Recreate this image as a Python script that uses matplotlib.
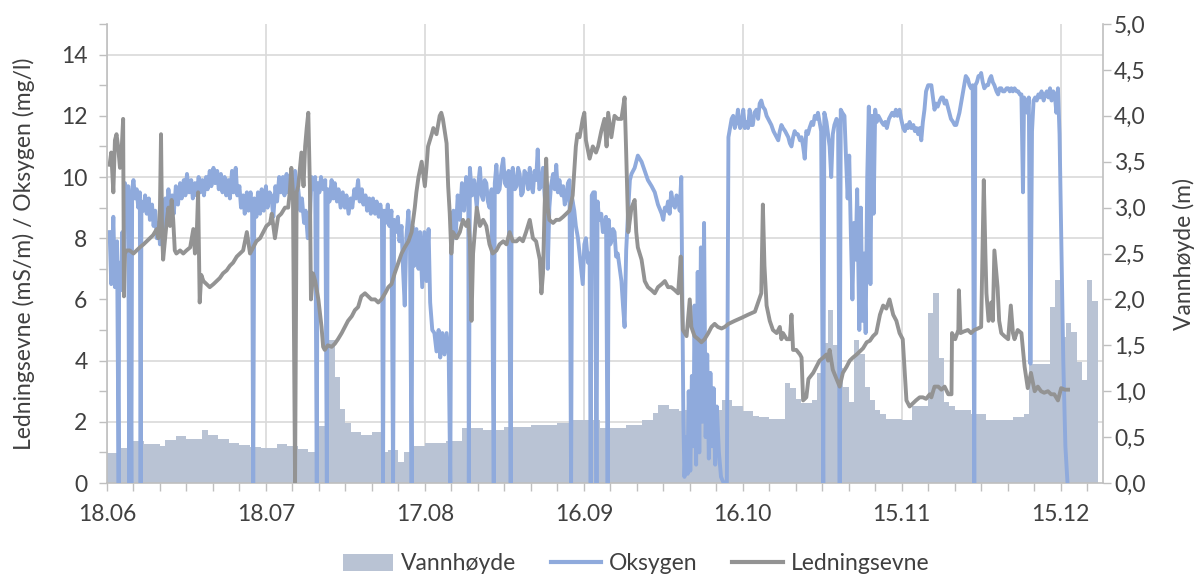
import matplotlib
matplotlib.use("Agg")
import matplotlib.pyplot as plt
import numpy as np
from matplotlib.lines import Line2D
from matplotlib.patches import Patch

# x-axis: days counted from 18.06
TICK_DAYS = [0, 30, 60, 90, 120, 150, 180]
TICK_LABELS = ["18.06", "18.07", "17.08", "16.09", "16.10", "15.11", "15.12"]

# daily water level (m), one value per day from day 0
WATER = [
    0.33, 0.33, 0.38, 0.38, 0.38, 0.46, 0.46, 0.43, 0.43, 0.43,
    0.40, 0.47, 0.47, 0.51, 0.51, 0.48, 0.48, 0.48, 0.58, 0.52,
    0.52, 0.48, 0.48, 0.44, 0.44, 0.41, 0.41, 0.39, 0.39, 0.38,
    0.38, 0.38, 0.43, 0.43, 0.40, 0.40, 0.37, 0.37, 0.34, 0.34,
    0.62, 0.62, 1.56, 1.16, 0.81, 0.65, 0.56, 0.56, 0.52, 0.52,
    0.56, 0.56, 0.34, 0.36, 0.36, 0.23, 0.34, 0.34, 0.40, 0.40,
    0.44, 0.44, 0.44, 0.44, 0.46, 0.46, 0.46, 0.60, 0.60, 0.60,
    0.60, 0.58, 0.58, 0.58, 0.58, 0.61, 0.61, 0.61, 0.61, 0.61,
    0.63, 0.63, 0.63, 0.63, 0.63, 0.65, 0.65, 0.65, 0.69, 0.69,
    0.69, 0.69, 0.69, 0.60, 0.60, 0.60, 0.60, 0.60, 0.63, 0.63,
    0.63, 0.69, 0.69, 0.76, 0.85, 0.85, 0.81, 0.81, 0.78, 0.80,
    0.80, 0.80, 0.80, 0.80, 0.80, 0.80, 0.90, 0.90, 0.84, 0.84,
    0.78, 0.78, 0.73, 0.72, 0.72, 0.70, 0.70, 0.70, 1.09, 1.03,
    0.92, 0.87, 0.87, 0.90, 1.20, 1.52, 1.88, 1.50, 1.25, 1.05,
    0.88, 1.56, 1.40, 1.05, 0.90, 0.80, 0.75, 0.70, 0.70, 0.70,
    0.69, 0.69, 0.84, 0.84, 0.84, 1.85, 2.07, 1.36, 0.88, 0.84,
    0.80, 0.80, 0.80, 0.75, 0.75, 0.75, 0.69, 0.69, 0.69, 0.69,
    0.69, 0.72, 0.72, 0.75, 1.30, 1.30, 1.30, 1.30, 1.92, 2.21,
    1.59, 1.74, 1.65, 1.32, 1.12, 2.21, 1.98,
]

# oxygen (mg/l): (day, value), zeros are logger dropouts
OXYGEN = [
    (0.5, 8.2), (0.8, 6.5), (1.2, 8.7), (1.5, 6.4), (1.9, 7.9), (2.2, 0.0),
    (2.3, 7.2), (2.6, 6.3), (2.9, 8.2), (3.2, 7.0), (3.4, 9.8), (3.7, 9.2),
    (4.0, 9.7), (4.2, 0.0), (4.35, 9.5), (4.6, 0.0), (4.75, 9.6), (5.0, 9.9),
    (5.3, 9.3), (5.6, 9.6), (5.9, 9.0), (6.2, 9.5), (6.35, 0.0), (6.5, 9.2),
    (6.9, 8.9), (7.2, 9.4), (7.5, 8.8), (7.9, 9.3), (8.1, 8.6), (8.5, 9.1),
    (8.8, 8.4), (9.1, 8.9), (9.4, 8.0), (9.7, 8.5), (10.0, 7.8), (10.3, 8.7),
    (10.6, 8.2), (11.0, 9.3), (11.3, 8.8), (11.6, 9.6), (11.9, 9.0), (12.3, 9.4),
    (12.6, 8.8), (13.0, 9.7), (13.4, 9.1), (13.8, 9.8), (14.1, 9.3), (14.5, 9.9),
    (14.8, 9.4), (15.1, 10.1), (15.5, 9.5), (15.9, 9.9), (16.2, 9.3), (16.6, 9.8),
    (16.9, 9.4), (17.3, 10.0), (17.6, 9.5), (18.0, 9.9), (18.3, 9.4), (18.7, 10.0),
    (19.0, 9.6), (19.4, 10.2), (19.7, 9.7), (20.1, 10.3), (20.4, 9.8), (20.8, 10.2),
    (21.1, 9.6), (21.5, 10.1), (21.8, 9.5), (22.2, 10.0), (22.5, 9.4), (22.9, 9.9),
    (23.2, 9.3), (23.6, 10.2), (23.9, 9.5), (24.3, 10.3), (24.6, 9.4), (25.0, 9.7),
    (25.3, 9.0), (25.7, 9.4), (26.0, 8.8), (26.4, 9.5), (26.7, 8.9), (27.1, 9.5),
    (27.4, 8.8), (27.6, 0.0), (27.8, 9.3), (28.2, 8.7), (28.5, 9.5), (28.9, 8.8),
    (29.2, 9.6), (29.6, 8.9), (30.0, 9.7), (30.3, 9.0), (30.7, 9.5), (31.0, 9.4),
    (31.4, 8.7), (31.8, 9.7), (32.1, 9.2), (32.5, 10.0), (32.8, 9.5), (33.2, 10.0),
    (33.5, 9.4), (33.9, 10.1), (34.2, 9.5), (34.6, 10.0), (34.9, 9.3), (35.3, 9.9),
    (35.5, 10.2), (35.8, 9.4), (36.1, 9.6), (36.5, 8.9), (36.8, 9.3), (37.2, 8.5),
    (37.5, 8.9), (37.9, 8.0), (38.3, 8.6), (38.6, 10.0), (39.0, 9.6), (39.3, 10.0),
    (39.6, 0.0), (39.75, 9.8), (40.1, 9.5), (40.4, 10.0), (40.8, 9.6), (41.2, 9.9),
    (41.5, 0.0), (41.65, 9.6), (42.0, 9.2), (42.4, 9.9), (42.7, 9.3), (43.0, 9.8),
    (43.4, 9.2), (43.7, 9.6), (44.1, 9.0), (44.5, 9.5), (44.9, 9.0), (45.2, 9.4),
    (45.6, 8.8), (46.0, 9.3), (46.3, 9.0), (46.7, 9.6), (47.0, 9.3), (47.4, 9.9),
    (47.7, 9.2), (48.1, 9.6), (48.4, 9.1), (48.8, 9.4), (49.1, 8.9), (49.5, 9.3),
    (49.8, 8.8), (50.2, 9.3), (50.6, 8.8), (50.9, 9.2), (51.3, 8.7), (51.6, 9.1),
    (51.9, 8.7), (52.1, 0.0), (52.3, 8.9), (52.6, 8.5), (53.0, 9.1), (53.3, 8.4),
    (53.7, 8.9), (54.0, 0.0), (54.2, 8.6), (54.5, 8.2), (54.9, 8.7), (55.2, 7.9),
    (55.6, 8.4), (55.9, 6.9), (56.2, 5.8), (56.5, 8.0), (56.9, 8.9), (57.2, 7.6),
    (57.5, 0.0), (57.65, 8.4), (58.0, 7.1), (58.4, 8.3), (58.8, 7.0), (59.1, 8.2),
    (59.5, 6.4), (59.9, 8.2), (60.3, 6.6), (60.7, 8.3), (61.0, 5.9), (61.4, 5.0),
    (61.8, 4.9), (62.2, 4.3), (62.6, 5.0), (62.9, 4.1), (63.3, 4.9), (63.7, 4.2),
    (64.1, 4.9), (64.5, 4.2), (64.8, 0.0), (65.0, 8.4), (65.4, 8.9), (65.8, 8.0),
    (66.2, 9.4), (66.6, 8.6), (67.0, 9.8), (67.4, 8.9), (67.8, 10.0), (68.2, 9.2),
    (68.3, 0.0), (68.5, 10.3), (68.9, 9.4), (69.3, 9.9), (69.8, 9.0), (70.1, 9.8),
    (70.4, 10.3), (70.7, 9.4), (71.0, 9.25), (71.3, 9.9), (71.6, 9.8), (71.9, 9.2),
    (72.2, 9.0), (72.6, 9.6), (73.0, 0.0), (73.2, 9.8), (73.5, 10.4), (73.8, 9.5),
    (74.1, 9.6), (74.5, 10.3), (74.8, 10.6), (75.1, 9.8), (75.4, 9.7), (75.8, 10.2),
    (76.2, 0.0), (76.4, 10.1), (76.6, 10.3), (77.0, 9.6), (77.3, 9.7), (77.6, 10.3),
    (77.9, 10.1), (78.2, 9.4), (78.5, 9.5), (78.8, 10.2), (79.1, 10.1), (79.5, 9.6),
    (79.8, 10.3), (80.1, 9.7), (80.4, 9.5), (80.7, 10.2), (81.0, 9.9), (81.3, 10.9),
    (81.6, 9.6), (81.9, 9.7), (82.3, 10.3), (82.6, 9.4), (82.9, 8.8), (83.2, 7.0),
    (83.5, 9.0), (83.8, 9.7), (84.2, 10.1), (84.5, 9.6), (84.8, 10.4), (85.1, 9.5),
    (85.4, 9.9), (85.8, 9.4), (86.1, 9.7), (86.4, 9.1), (86.7, 9.3), (87.0, 9.8),
    (87.3, 9.9), (87.6, 0.0), (87.8, 9.3), (88.2, 8.9), (88.5, 8.4), (88.9, 8.0),
    (89.2, 7.5), (89.5, 7.0), (89.8, 6.5), (90.1, 7.8), (90.4, 8.0), (90.8, 7.2),
    (91.1, 7.5), (91.3, 0.0), (91.5, 9.4), (91.8, 9.5), (92.1, 9.5), (92.4, 0.0),
    (92.6, 9.2), (92.9, 8.6), (93.3, 8.8), (93.6, 8.2), (93.9, 8.4), (94.2, 8.7),
    (94.5, 0.0), (94.7, 8.6), (95.0, 7.8), (95.2, 7.9), (95.5, 8.3), (95.8, 8.2),
    (96.1, 7.4), (96.4, 7.5), (96.8, 7.0), (97.1, 6.6), (97.4, 5.8), (97.7, 5.1),
    (98.0, 7.6), (98.4, 9.0), (98.7, 9.9), (99.0, 10.1), (99.6, 10.3), (100.2, 10.7),
    (100.9, 10.5), (101.5, 10.2), (102.1, 9.9), (102.8, 9.7), (103.4, 9.5), (104.0, 9.1),
    (104.7, 8.8), (105.0, 8.6), (105.3, 9.0), (105.6, 8.9), (105.9, 9.2), (106.2, 8.8),
    (106.5, 9.5), (106.9, 9.1), (107.2, 9.0), (107.5, 9.4), (107.8, 9.3), (108.1, 8.9),
    (108.4, 10.0), (108.6, 6.0), (108.8, 2.0), (109.0, 0.2), (109.3, 1.5), (109.6, 0.3),
    (109.8, 3.0), (110.1, 0.4), (110.4, 3.5), (110.7, 1.2), (110.9, 5.8), (111.2, 0.6),
    (111.5, 6.9), (111.8, 1.0), (112.1, 7.7), (112.4, 2.0), (112.7, 8.5), (113.0, 1.5),
    (113.3, 4.2), (113.6, 0.8), (113.9, 3.6), (114.2, 1.2), (114.5, 3.1), (114.8, 0.6),
    (115.1, 2.5), (115.5, 1.0), (115.9, 0.2), (116.4, 0.0), (117.0, 0.0), (117.3, 11.3),
    (117.9, 11.9), (118.2, 12.0), (118.5, 11.6), (118.8, 11.8), (119.1, 12.2), (119.5, 11.6),
    (119.8, 11.7), (120.1, 12.2), (120.4, 11.6), (120.7, 11.8), (121.0, 11.6), (121.3, 12.2),
    (121.6, 11.7), (121.9, 11.7), (122.2, 12.1), (122.6, 12.2), (122.9, 11.9), (123.2, 12.4),
    (123.5, 12.5), (123.8, 12.3), (124.2, 12.2), (124.5, 12.0), (124.8, 11.9), (125.1, 11.8),
    (125.4, 11.7), (125.8, 11.5), (126.1, 11.4), (126.4, 11.3), (126.7, 11.2), (127.0, 11.5),
    (127.3, 11.7), (127.6, 11.6), (128.0, 11.5), (128.3, 11.4), (128.6, 11.3), (128.9, 11.1),
    (129.2, 11.0), (129.5, 11.3), (129.8, 11.5), (130.1, 11.4), (130.4, 11.4), (130.8, 11.2),
    (131.1, 11.3), (131.4, 11.0), (131.7, 10.6), (132.0, 11.5), (132.3, 11.4), (132.6, 11.6),
    (133.0, 11.8), (133.3, 11.7), (133.6, 12.0), (133.9, 11.9), (134.2, 12.1), (134.5, 11.8),
    (134.8, 11.5), (135.2, 0.0), (135.4, 12.1), (135.8, 11.8), (136.1, 11.4), (136.4, 11.0),
    (136.7, 10.0), (137.0, 11.4), (137.3, 11.7), (137.7, 11.9), (138.0, 11.8), (138.3, 0.0),
    (138.5, 12.2), (138.8, 12.1), (139.2, 12.0), (139.5, 10.6), (139.8, 9.3), (140.1, 10.7),
    (140.4, 8.2), (140.7, 6.0), (141.0, 8.5), (141.3, 7.3), (141.6, 9.6), (142.0, 5.0),
    (142.3, 9.0), (142.6, 5.3), (142.9, 7.5), (143.2, 4.9), (143.5, 10.0), (143.8, 12.3),
    (144.1, 6.5), (144.4, 12.0), (144.7, 8.8), (145.0, 12.2), (145.3, 11.8), (145.6, 12.0),
    (145.9, 11.9), (146.2, 11.8), (146.6, 11.7), (146.9, 11.8), (147.2, 11.6), (147.6, 11.9),
    (147.9, 12.0), (148.2, 12.1), (148.6, 12.0), (148.9, 12.2), (149.2, 12.0), (149.6, 12.2),
    (149.9, 11.9), (150.3, 11.6), (150.6, 11.5), (150.9, 11.7), (151.2, 11.6), (151.5, 11.8),
    (151.8, 11.6), (152.2, 11.7), (152.5, 11.5), (152.8, 11.6), (153.1, 11.4), (153.4, 11.6),
    (153.7, 11.2), (154.0, 11.8), (154.3, 12.2), (154.6, 12.8), (155.0, 13.0), (155.3, 13.0),
    (155.6, 13.0), (155.9, 12.6), (156.2, 12.2), (156.5, 12.4), (156.8, 12.3), (157.2, 12.5),
    (157.5, 12.6), (157.8, 12.6), (158.1, 12.4), (158.4, 12.5), (158.7, 12.3), (159.0, 12.1),
    (159.3, 11.9), (159.7, 11.8), (160.0, 11.7), (160.3, 11.7), (160.6, 11.9), (160.9, 12.1),
    (161.2, 12.4), (161.5, 12.7), (161.8, 13.0), (162.1, 13.3), (162.5, 13.2), (162.8, 13.0),
    (163.1, 12.9), (163.4, 13.0), (163.7, 0.0), (163.9, 13.0), (164.2, 13.1), (164.5, 13.3),
    (164.8, 13.3), (165.0, 13.4), (165.3, 13.1), (165.6, 12.9), (166.0, 13.0), (166.3, 13.0),
    (166.6, 13.2), (166.9, 13.3), (167.2, 13.1), (167.5, 13.0), (167.9, 12.8), (168.2, 12.7),
    (168.5, 12.9), (168.8, 12.9), (169.1, 12.8), (169.4, 12.8), (169.8, 12.9), (170.1, 12.9),
    (170.4, 12.8), (170.7, 12.9), (171.0, 12.8), (171.3, 12.9), (171.7, 12.8), (172.0, 12.8),
    (172.3, 12.7), (172.6, 12.7), (172.9, 9.5), (173.1, 12.6), (173.4, 12.5), (173.7, 12.1),
    (174.0, 12.6), (174.3, 3.9), (174.6, 11.5), (174.9, 12.5), (175.2, 12.6), (175.5, 12.5),
    (175.8, 12.7), (176.1, 12.6), (176.4, 12.8), (176.8, 12.5), (177.1, 12.7), (177.4, 12.8),
    (177.7, 12.6), (178.0, 12.9), (178.3, 12.5), (178.6, 12.8), (178.9, 12.7), (179.2, 12.1),
    (179.5, 12.9), (179.8, 11.4), (180.1, 8.2), (180.5, 4.0), (180.9, 1.2), (181.3, 0.0),
]

# conductivity (mS/m): (day, value)
CONDUCTIVITY = [
    (0.5, 10.4), (0.8, 10.8), (1.2, 9.5), (1.5, 11.2), (1.8, 11.4), (2.1, 11.0),
    (2.45, 10.3), (2.8, 11.0), (3.05, 11.9), (3.2, 6.1), (3.4, 7.5), (3.7, 7.6),
    (4.3, 7.6), (5.0, 7.5), (5.6, 7.6), (6.2, 7.7), (6.9, 7.8), (7.5, 7.9),
    (8.1, 8.0), (8.7, 8.1), (9.4, 8.3), (9.7, 8.0), (10.0, 9.0), (10.2, 11.4),
    (10.4, 8.2), (10.6, 7.3), (11.3, 8.6), (11.6, 9.0), (11.9, 8.4), (12.2, 9.25),
    (12.5, 8.6), (12.8, 7.6), (13.1, 7.5), (13.8, 7.6), (14.4, 7.5), (15.0, 7.6),
    (15.7, 7.7), (16.3, 8.3), (16.6, 7.5), (16.9, 7.9), (17.2, 9.5), (17.5, 5.9),
    (17.8, 6.8), (18.2, 6.6), (18.8, 6.5), (19.4, 6.4), (20.1, 6.5), (20.7, 6.6),
    (21.3, 6.7), (21.9, 6.85), (22.6, 6.95), (23.2, 7.1), (23.8, 7.2), (24.5, 7.4),
    (25.1, 7.5), (25.7, 7.6), (26.4, 8.2), (27.0, 7.5), (27.6, 7.7), (28.2, 7.9),
    (28.9, 8.0), (29.5, 8.2), (30.1, 8.4), (30.8, 8.5), (31.1, 8.8), (31.7, 8.0),
    (32.3, 8.7), (32.9, 8.8), (33.6, 9.0), (34.2, 9.0), (34.5, 9.5), (34.8, 10.3),
    (35.1, 9.5), (35.5, 0.0), (35.8, 9.5), (36.1, 9.7), (36.7, 10.8), (37.1, 9.7),
    (37.4, 11.0), (37.7, 11.6), (38.0, 12.1), (38.3, 9.7), (38.5, 6.0), (38.9, 6.85),
    (39.3, 6.6), (39.9, 6.0), (40.5, 5.1), (40.8, 4.45), (41.1, 4.35), (41.7, 4.5),
    (42.4, 4.45), (43.0, 4.55), (43.6, 4.7), (44.3, 4.9), (44.9, 5.1), (45.5, 5.3),
    (46.2, 5.45), (46.8, 5.65), (47.4, 5.75), (48.0, 6.1), (48.7, 6.2), (49.3, 6.1),
    (49.9, 6.0), (50.6, 6.0), (51.2, 5.9), (51.8, 6.0), (52.5, 6.2), (53.1, 6.4),
    (53.7, 6.5), (54.3, 6.85), (55.0, 7.2), (55.6, 7.5), (56.2, 7.7), (56.9, 7.9),
    (57.5, 8.2), (58.1, 9.0), (58.4, 9.5), (58.8, 10.0), (59.4, 10.5), (60.0, 9.7),
    (60.3, 10.3), (60.6, 11.0), (61.3, 11.4), (61.6, 11.6), (62.2, 11.4), (62.8, 12.0),
    (63.1, 12.1), (63.4, 11.9), (64.1, 11.1), (64.4, 9.7), (64.7, 8.8), (65.0, 7.5),
    (65.3, 8.2), (66.0, 8.0), (66.6, 8.2), (67.2, 8.6), (67.8, 8.4), (68.2, 8.6),
    (68.5, 7.9), (68.8, 5.3), (69.1, 7.5), (69.8, 9.0), (70.4, 8.4), (71.0, 8.6),
    (71.6, 8.4), (72.2, 7.8), (72.8, 7.5), (73.5, 7.6), (74.1, 7.8), (74.8, 7.9),
    (75.4, 7.8), (76.0, 8.2), (76.6, 7.9), (77.3, 7.9), (77.9, 8.0), (78.5, 7.9),
    (79.1, 8.2), (79.8, 8.6), (80.4, 8.0), (81.0, 7.9), (81.7, 7.3), (82.0, 6.2),
    (82.3, 6.85), (82.6, 9.0), (82.9, 10.6), (83.2, 9.0), (83.5, 8.6), (84.2, 8.5),
    (84.8, 8.6), (85.4, 8.6), (86.1, 8.7), (86.7, 8.8), (87.3, 8.9), (87.9, 9.4),
    (88.5, 11.0), (88.8, 11.4), (89.2, 11.3), (89.8, 11.9), (90.1, 12.1), (90.4, 11.2),
    (91.1, 10.6), (91.7, 11.0), (92.3, 10.8), (92.7, 11.0), (93.3, 11.5), (93.9, 11.9),
    (94.3, 11.0), (94.6, 12.1), (95.2, 11.3), (95.8, 12.0), (96.4, 11.9), (97.1, 11.9),
    (97.7, 12.6), (98.0, 10.8), (98.4, 8.2), (99.0, 9.0), (99.6, 9.25), (99.9, 8.2),
    (100.2, 7.7), (100.9, 7.3), (101.5, 6.6), (102.1, 6.4), (102.8, 6.3), (103.4, 6.2),
    (104.0, 6.4), (104.7, 6.5), (105.3, 6.6), (105.9, 6.4), (106.5, 6.4), (107.2, 6.3),
    (107.8, 6.2), (108.3, 7.4), (108.7, 5.0), (109.4, 4.8), (110.0, 6.0), (110.3, 5.1),
    (110.9, 4.8), (111.6, 4.7), (112.2, 4.6), (112.8, 4.7), (113.5, 4.9), (114.1, 5.1),
    (114.7, 5.2), (115.3, 5.1), (116.0, 5.05), (116.6, 5.1), (117.3, 5.2), (118.5, 5.3),
    (119.8, 5.4), (121.0, 5.5), (122.3, 5.6), (122.9, 5.9), (123.5, 6.2), (123.8, 9.1),
    (124.1, 7.1), (124.5, 5.8), (125.1, 5.3), (125.7, 5.0), (126.4, 4.9), (127.0, 5.1),
    (127.3, 4.7), (127.6, 4.9), (128.3, 4.7), (128.9, 4.7), (129.2, 5.5), (129.5, 4.35),
    (130.1, 4.35), (130.8, 4.2), (131.1, 4.1), (131.4, 2.7), (132.0, 2.8), (132.4, 3.4),
    (133.3, 3.6), (133.9, 3.8), (134.5, 4.0), (135.2, 4.1), (135.8, 4.2), (136.1, 4.0),
    (136.4, 4.35), (137.0, 3.7), (137.7, 3.4), (138.3, 3.15), (138.9, 3.6), (139.6, 3.8),
    (140.2, 4.0), (140.8, 4.1), (141.5, 4.2), (142.1, 4.3), (142.7, 4.4), (143.4, 4.6),
    (144.0, 4.65), (144.6, 4.8), (145.2, 4.9), (145.9, 5.5), (146.5, 5.8), (147.1, 5.7),
    (147.7, 6.0), (148.4, 5.5), (149.0, 5.3), (149.6, 4.9), (150.2, 4.7), (150.9, 2.7),
    (151.5, 2.5), (152.1, 2.6), (152.7, 2.7), (153.4, 2.8), (154.0, 2.8), (154.6, 2.75),
    (155.3, 2.9), (155.6, 2.8), (156.2, 3.15), (156.9, 3.15), (157.5, 3.05), (158.1, 3.15),
    (158.8, 2.9), (159.4, 2.9), (159.5, 4.9), (160.1, 4.7), (160.7, 5.0), (160.8, 6.3),
    (161.1, 4.9), (161.7, 4.95), (162.5, 5.0), (163.1, 4.9), (163.7, 5.0), (164.4, 5.05),
    (165.0, 5.1), (165.5, 9.9), (165.8, 7.5), (166.0, 6.2), (166.4, 5.3), (166.9, 5.9),
    (167.2, 5.3), (167.5, 7.6), (167.8, 7.0), (168.1, 6.4), (168.4, 5.3), (168.8, 4.9),
    (169.4, 4.8), (170.1, 4.7), (170.6, 5.8), (171.0, 4.9), (171.3, 4.7), (171.9, 5.0),
    (172.6, 4.9), (173.2, 3.8), (173.8, 3.1), (174.4, 3.6), (175.1, 3.0), (175.7, 3.15),
    (176.3, 3.0), (176.9, 2.95), (177.6, 3.0), (178.2, 2.9), (178.8, 2.9), (179.5, 2.7),
    (179.8, 2.9), (180.1, 3.1), (180.8, 3.05), (181.4, 3.05),
]

LEFT_MAX = 15
RIGHT_MAX = 5
DAY_MAX = 188

TEXT = "#404040"
AXIS = "#bfbfbf"
GRID = "#d9d9d9"
C_WATER = "#b9c3d4"
C_OXY = "#8faadc"
C_COND = "#939393"


def main() -> None:
    plt.rcParams.update({
        "font.family": ["Lato", "DejaVu Sans"],
        "font.size": 16.5,
    })

    fig = plt.figure(figsize=(11.98, 5.79), dpi=100)
    # bars on the base axes (right scale), lines on a twin in front (left scale)
    ax_w = fig.add_axes([0.0893, 0.1658, 0.8314, 0.7927])
    ax_l = ax_w.twinx()
    ax_w.set_zorder(1)
    ax_l.set_zorder(2)
    ax_l.patch.set_visible(False)

    days = np.arange(len(WATER))
    ax_w.bar(days, WATER, width=1.0, align="edge", color=C_WATER, linewidth=0, zorder=2)

    oxy_day, oxy_val = zip(*OXYGEN)
    cond_day, cond_val = zip(*CONDUCTIVITY)
    ax_l.plot(oxy_day, oxy_val, color=C_OXY, lw=2.8, solid_joinstyle="round")
    ax_l.plot(cond_day, cond_val, color=C_COND, lw=2.8, solid_joinstyle="round")

    ax_w.set_xlim(0, DAY_MAX)
    ax_w.set_ylim(0, RIGHT_MAX)
    ax_l.set_ylim(0, LEFT_MAX)

    # axis sides: left scale for lines, right scale for water level
    ax_l.yaxis.tick_left()
    ax_l.yaxis.set_label_position("left")
    ax_w.yaxis.tick_right()
    ax_w.yaxis.set_label_position("right")

    ax_l.set_yticks(np.arange(0, LEFT_MAX, 2))
    ax_l.set_yticks(np.arange(1, LEFT_MAX + 1, 2), minor=True)
    right_ticks = np.arange(0, RIGHT_MAX + 0.01, 0.5)
    ax_w.set_yticks(right_ticks)
    ax_w.set_yticklabels([f"{v:.1f}".replace(".", ",") for v in right_ticks])
    # horizontal grid follows the left scale, drawn behind the bars
    ax_w.set_yticks(np.arange(0, LEFT_MAX, 2) * RIGHT_MAX / LEFT_MAX, minor=True)

    ax_w.set_xticks(TICK_DAYS)
    ax_w.set_xticklabels(TICK_LABELS)
    ax_w.set_xticks(np.arange(0, DAY_MAX, 5), minor=True)

    ax_w.set_axisbelow(True)
    ax_w.grid(True, axis="x", which="major", color=GRID, lw=1.2)
    ax_w.grid(True, axis="y", which="minor", color=GRID, lw=1.2)
    ax_w.grid(False, axis="y", which="major")

    ax_w.tick_params(axis="x", which="both", direction="out", length=6, width=1,
                     color=AXIS, labelcolor=TEXT, pad=9)
    ax_w.tick_params(axis="y", which="major", direction="out", length=6, width=1,
                     color=AXIS, labelcolor=TEXT, pad=2)
    ax_w.tick_params(axis="y", which="minor", length=0)
    ax_l.tick_params(axis="y", which="both", direction="out", length=6, width=1,
                     color=AXIS, labelcolor=TEXT, pad=8)

    for side in ["top", "left"]:
        ax_w.spines[side].set_visible(False)
    for side in ["top", "right", "bottom"]:
        ax_l.spines[side].set_visible(False)
    for sp in [ax_w.spines["bottom"], ax_w.spines["right"], ax_l.spines["left"]]:
        sp.set_color(AXIS)
        sp.set_linewidth(1.2)

    ax_l.set_ylabel("Ledningsevne (mS/m) / Oksygen (mg/l)", color=TEXT)
    ax_l.yaxis.set_label_coords(-0.072, 0.5)
    ax_w.set_ylabel("Vannhøyde (m)", color=TEXT)
    ax_w.yaxis.set_label_coords(1.07, 0.5)

    handles = [
        Patch(facecolor=C_WATER, edgecolor="none"),
        Line2D([], [], color=C_OXY, lw=3),
        Line2D([], [], color=C_COND, lw=3),
    ]
    fig.legend(handles, ["Vannhøyde", "Oksygen", "Ledningsevne"], loc="center",
               bbox_to_anchor=(0.531, 0.026), ncol=3, frameon=False,
               labelcolor=TEXT, handlelength=2.2, handleheight=0.8,
               handletextpad=0.35, columnspacing=1.5)

    fig.savefig("out.png", dpi=100, facecolor="white")


if __name__ == "__main__":
    main()
